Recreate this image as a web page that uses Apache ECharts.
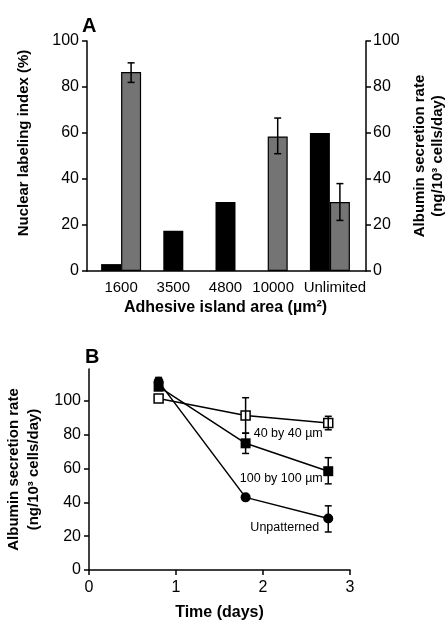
<!DOCTYPE html>
<html>
<head>
<meta charset="utf-8">
<script src="https://cdn.jsdelivr.net/npm/echarts@6/dist/echarts.min.js"></script>
<style>
  html, body { margin: 0; padding: 0; background: #fff; }
  #chart { width: 448px; height: 620px; }
</style>
</head>
<body>
<div id="chart"></div>
<script>
// Panel A: nuclear labeling (black) vs albumin secretion (grey) by island area
const areas = ["1600", "3500", "4800", "10000", "Unlimited"];
const nuclear = [3, 17.5, 30, null, 60];
const albumin = [86.5, null, null, 58.5, 30];
const albuminLo = [82, null, null, 51, 22];
const albuminHi = [90.5, null, null, 66.5, 38];

// Panel B: albumin secretion over time
const days = [0.8, 1.8, 2.75];
const sq40 = [101.5, 91.5, 87];
const sq40Lo = [null, 81, 83];
const sq40Hi = [null, 102, 91];
const sq100 = [108.5, 75, 58.5];
const sq100Lo = [106.5, 69, 51];
const sq100Hi = [110.5, 81, 66.5];
const unpat = [111.5, 43, 30.5];
const unpatLo = [109, null, 22.5];
const unpatHi = [114, null, 38];
const axisTicksB = [0, 20, 40, 60, 80, 100];

const FONT = "'Liberation Sans', Arial, sans-serif";
const INK = "#000";
const GREY = "#747474";
const BAR_W = 20;

const paired = (i) => nuclear[i] != null && albumin[i] != null;
const pairedNuclear = nuclear.map((v, i) => (paired(i) ? v : null));
const pairedAlbumin = albumin.map((v, i) => (paired(i) ? v : null));
const singleNuclear = nuclear.map((v, i) => (paired(i) ? null : v));
const singleAlbumin = albumin.map((v, i) => (paired(i) ? null : v));

const errA = albumin
  .map((v, i) => (v == null ? null : [i, albuminLo[i], albuminHi[i], paired(i) ? BAR_W / 2 : 0]))
  .filter(Boolean);

function errB(lo, hi) {
  return days.map((d, i) => [d, lo[i], hi[i], 0]).filter((r) => r[1] != null);
}

function errorBar(params, api) {
  const off = api.value(3);
  const lo = api.coord([api.value(0), api.value(1)]);
  const hi = api.coord([api.value(0), api.value(2)]);
  const x = lo[0] + off;
  const cap = 3.5;
  const style = { stroke: INK, lineWidth: 1.5 };
  return {
    type: "group",
    children: [
      { type: "line", shape: { x1: x, y1: lo[1], x2: x, y2: hi[1] }, style },
      { type: "line", shape: { x1: x - cap, y1: hi[1], x2: x + cap, y2: hi[1] }, style },
      { type: "line", shape: { x1: x - cap, y1: lo[1], x2: x + cap, y2: lo[1] }, style },
    ],
  };
}

const tickLabel = { color: INK, fontSize: 16, fontFamily: FONT };
const axisTitle = { color: INK, fontSize: 15, fontWeight: "bold", fontFamily: FONT };
const line = { lineStyle: { color: INK, width: 1.5 } };
const tick = { length: 5, lineStyle: { color: INK, width: 1.5 } };

function note(text, coord) {
  return {
    symbol: "circle",
    symbolSize: 1,
    itemStyle: { color: "transparent" },
    label: { show: true, position: "inside", color: INK, fontSize: 12.5, fontFamily: FONT, formatter: text },
    data: [{ coord }],
  };
}

const chart = echarts.init(document.getElementById("chart"), null, { renderer: "canvas" });

chart.setOption({
  animation: false,
  backgroundColor: "#fff",
  textStyle: { fontFamily: FONT },
  title: [
    { text: "A", left: 77, top: 11, textStyle: { fontSize: 20, fontWeight: "bold", color: INK, fontFamily: FONT } },
    { text: "B", left: 80, top: 342, textStyle: { fontSize: 20, fontWeight: "bold", color: INK, fontFamily: FONT } },
  ],
  grid: [
    { left: 87, right: 82, top: 41, height: 230, outerBoundsMode: "none" },  // frame of panel A
    { left: 95, right: 92, top: 41, height: 230, outerBoundsMode: "none" },  // bars of panel A
    { left: 89, right: 98, top: 369, height: 201, outerBoundsMode: "none" }, // panel B
  ],
  xAxis: [
    {
      gridIndex: 0, type: "value", min: 0, max: 1,
      axisLine: line, axisTick: { show: false }, axisLabel: { show: false }, splitLine: { show: false },
    },
    {
      gridIndex: 1, type: "category", data: areas,
      axisLine: { show: false }, axisTick: { show: false },
      axisLabel: {
        ...tickLabel, fontSize: 15, margin: 9, interval: 0,
        formatter: (v) => (v === "10000" ? "{l|" + v + "}" : v === "Unlimited" ? "{r|" + v + "}" : v),
        rich: {
          l: { fontSize: 15, fontFamily: FONT, color: INK, padding: [0, 9, 0, 0] },
          r: { fontSize: 15, fontFamily: FONT, color: INK, padding: [0, 0, 0, 10] },
        },
      },
      name: "Adhesive island area (µm²)", nameLocation: "middle", nameGap: 29,
      nameTextStyle: { ...axisTitle, fontSize: 16 },
    },
    { gridIndex: 1, type: "category", data: areas, show: false },
    {
      gridIndex: 2, type: "value", min: 0, max: 3, interval: 1,
      axisLine: line, axisTick: tick,
      axisLabel: { ...tickLabel, margin: 10 }, splitLine: { show: false },
      name: "Time (days)", nameLocation: "middle", nameGap: 35,
      nameTextStyle: { ...axisTitle, fontSize: 16 },
    },
  ],
  yAxis: [
    {
      gridIndex: 0, type: "value", min: 0, max: 100, interval: 20, position: "left",
      axisLine: { show: true, ...line }, axisTick: tick,
      axisLabel: { ...tickLabel, margin: 8 }, splitLine: { show: false },
      name: "Nuclear labeling index (%)", nameLocation: "middle", nameGap: 56, nameRotate: 90,
      nameTextStyle: { ...axisTitle, padding: [0, 0, 0, 26] },
    },
    {
      gridIndex: 0, type: "value", min: 0, max: 100, interval: 20, position: "right",
      axisLine: { show: true, ...line }, axisTick: tick,
      axisLabel: { ...tickLabel, margin: 7 }, splitLine: { show: false },
      name: "Albumin secretion rate\n(ng/10³ cells/day)", nameLocation: "middle", nameGap: 44, nameRotate: 90,
      nameTextStyle: { ...axisTitle, lineHeight: 18 },
    },
    { gridIndex: 1, type: "value", min: 0, max: 100, show: false },
    {
      gridIndex: 2, type: "value", min: 0, max: 119,
      axisLine: { show: true, ...line },
      axisTick: { ...tick, customValues: axisTicksB },
      axisLabel: { ...tickLabel, margin: 8, customValues: axisTicksB }, splitLine: { show: false },
      name: "Albumin secretion rate\n(ng/10³ cells/day)", nameLocation: "middle", nameGap: 45, nameRotate: 90,
      nameTextStyle: { ...axisTitle, lineHeight: 20 },
    },
  ],
  series: [
    {
      name: "Nuclear labeling index", type: "bar", xAxisIndex: 1, yAxisIndex: 2,
      barWidth: BAR_W, barGap: 0, data: pairedNuclear,
      itemStyle: { color: INK },
    },
    {
      name: "Albumin secretion rate", type: "bar", xAxisIndex: 1, yAxisIndex: 2,
      barWidth: BAR_W, barGap: 0, data: pairedAlbumin,
      itemStyle: { color: GREY, borderColor: INK, borderWidth: 1.2 },
    },
    {
      name: "Nuclear labeling index (single)", type: "bar", xAxisIndex: 2, yAxisIndex: 2,
      barWidth: BAR_W, barGap: "-100%", data: singleNuclear,
      itemStyle: { color: INK },
    },
    {
      name: "Albumin secretion rate (single)", type: "bar", xAxisIndex: 2, yAxisIndex: 2,
      barWidth: BAR_W, barGap: "-100%", data: singleAlbumin,
      itemStyle: { color: GREY, borderColor: INK, borderWidth: 1.2 },
    },
    {
      type: "custom", xAxisIndex: 1, yAxisIndex: 2, renderItem: errorBar, data: errA, z: 5,
    },
    {
      name: "40 by 40 µm", type: "line", xAxisIndex: 3, yAxisIndex: 3,
      data: days.map((d, i) => [d, sq40[i]]),
      symbol: "rect", symbolSize: 9, ...line,
      itemStyle: { color: "#fff", borderColor: INK, borderWidth: 1.5 },
      markPoint: note("40 by 40 µm", [2.29, 81]),
    },
    {
      name: "100 by 100 µm", type: "line", xAxisIndex: 3, yAxisIndex: 3,
      data: days.map((d, i) => [d, sq100[i]]),
      symbol: "rect", symbolSize: 10, ...line,
      itemStyle: { color: INK },
      markPoint: note("100 by 100 µm", [2.21, 54]),
    },
    {
      name: "Unpatterned", type: "line", xAxisIndex: 3, yAxisIndex: 3,
      data: days.map((d, i) => [d, unpat[i]]),
      symbol: "circle", symbolSize: 10, ...line,
      itemStyle: { color: INK },
      markPoint: note("Unpatterned", [2.25, 25]),
    },
    { type: "custom", xAxisIndex: 3, yAxisIndex: 3, renderItem: errorBar, data: errB(sq40Lo, sq40Hi), z: 5 },
    { type: "custom", xAxisIndex: 3, yAxisIndex: 3, renderItem: errorBar, data: errB(sq100Lo, sq100Hi), z: 5 },
    { type: "custom", xAxisIndex: 3, yAxisIndex: 3, renderItem: errorBar, data: errB(unpatLo, unpatHi), z: 5 },
  ],
});
</script>
</body>
</html>
